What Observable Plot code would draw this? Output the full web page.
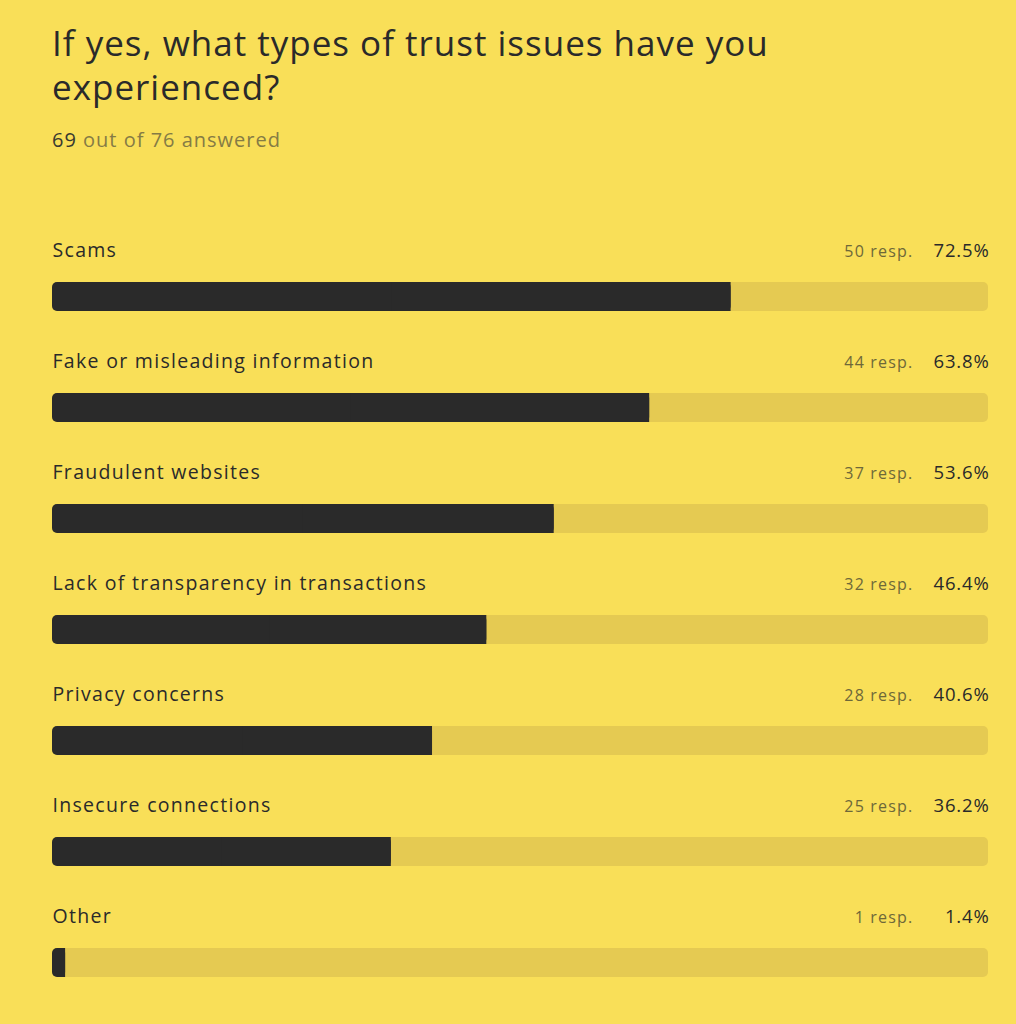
<!DOCTYPE html>
<html>
<head>
<meta charset="utf-8">
<script src="https://cdn.jsdelivr.net/npm/d3@7"></script>
<script src="https://cdn.jsdelivr.net/npm/@observablehq/plot@0.6"></script>
<style>
  html, body { margin: 0; padding: 0; background: #F9DF58; width: 1016px; height: 1024px; overflow: hidden; }
  body { position: relative; font-family: "Open Sans", sans-serif; color: #2a2a2a; }
  #title { position: absolute; left: 52px; top: 21px; width: 800px; font-size: 35px; line-height: 44px; font-weight: 400; margin: 0; letter-spacing: 1px; }
  #sub { position: absolute; left: 52px; top: 126px; font-size: 20px; line-height: 28px; color: #857b45; letter-spacing: 1px; }
  #sub b { font-weight: 400; color: #3a3a30; }
  #chart { position: absolute; left: 0; top: 190px; }
</style>
</head>
<body>
<div id="title">If yes, what types of trust issues have you experienced?</div>
<div id="sub"><b>69</b> out of 76 answered</div>
<div id="chart"></div>
<script>
const categories = [
  "Scams",
  "Fake or misleading information",
  "Fraudulent websites",
  "Lack of transparency in transactions",
  "Privacy concerns",
  "Insecure connections",
  "Other"
];
const responses = [50, 44, 37, 32, 28, 25, 1];
const percents = [72.5, 63.8, 53.6, 46.4, 40.6, 36.2, 1.4];

const data = categories.map((c, i) => ({category: c, resp: responses[i], pct: percents[i]}));

const bandTop = 55, bandBottom = 27; // insets within 111px band
const textDy = -26;

const chart = Plot.plot({
  width: 1016,
  height: 834,
  marginLeft: 52,
  marginRight: 28,
  marginTop: 37,
  marginBottom: 20,
  style: {background: "transparent", fontFamily: "Open Sans, sans-serif"},
  x: {domain: [0, 100], axis: null},
  y: {domain: categories, padding: 0, axis: null},
  marks: [
    Plot.barX(data, {x1: 0, x2: 100, y: "category", fill: "#E5CA52", insetTop: bandTop, insetBottom: bandBottom, rx: 5}),
    Plot.barX(data, {x1: 0, x2: "pct", y: "category", fill: "#2A2A2A", insetTop: bandTop, insetBottom: bandBottom, rx: 5}),
    Plot.barX(data, {x1: d => d.pct / 2, x2: "pct", y: "category", fill: "#2A2A2A", insetTop: bandTop, insetBottom: bandBottom}),
    Plot.text(data, {x: 0, y: "category", text: "category", textAnchor: "start", lineAnchor: "bottom", dy: textDy, fontSize: 19.5, fill: "#2a2a2a"}),
    Plot.text(data, {x: 100, y: "category", text: d => `${d.pct.toFixed(1)}%`, textAnchor: "end", lineAnchor: "bottom", dy: textDy, dx: 1, fontSize: 18.5, fill: "#2a2a2a"}),
    Plot.text(data, {x: 100, y: "category", text: d => `${d.resp} resp.`, textAnchor: "end", lineAnchor: "bottom", dy: textDy, dx: -75, fontSize: 16, fill: "#6e6839"})
  ]
});
// letter spacing to approximate the wider geometric face of the original
const spacing = [1.3, 0.8, 1.2];
d3.select(chart).selectAll('g[aria-label="text"]').each(function(_, i) {
  d3.select(this).attr("letter-spacing", spacing[i] + "px");
});
document.getElementById("chart").appendChild(chart);
</script>
</body>
</html>
